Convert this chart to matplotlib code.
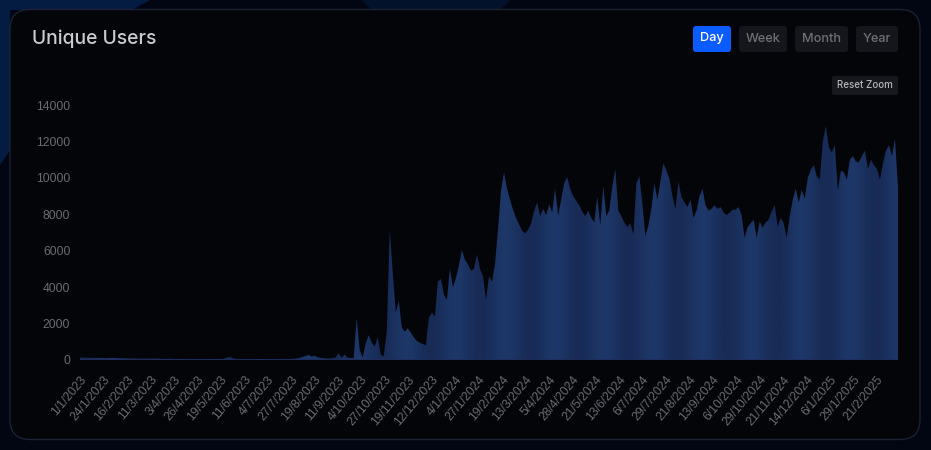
#!/usr/bin/env python3
import numpy as np
import pandas as pd
import matplotlib
matplotlib.use("Agg")
import matplotlib.pyplot as plt
import matplotlib.dates as mdates
from matplotlib.colors import LinearSegmentedColormap
from matplotlib.patches import FancyBboxPatch, Polygon

# unique users, one reading roughly every 3 days
users_2023_a = [130, 135, 125, 120, 125, 115, 110, 120, 105, 100, 110, 115, 105, 95, 100, 90,
                95, 85, 90, 80, 85, 75, 80, 85, 70, 75, 65, 70, 60, 65, 70, 60, 55, 60, 65, 50,
                55, 60, 55, 50, 55, 50, 45, 50, 55, 60, 55]
users_2023_b = [60, 70, 140, 160, 90, 60, 50, 45, 50, 45, 50, 45, 50, 55, 50, 45, 50, 55, 50, 45,
                50, 60, 55, 60, 70, 90, 110, 170, 210, 290, 180, 240, 150, 120, 100, 90, 80, 110,
                140, 380, 130, 300, 120, 110, 100]
users_2023_c = [2300, 550, 130, 900, 1370, 950, 750, 1250, 300, 200, 1550, 7200, 4800, 2600, 3250,
                1800, 1550, 1750, 1500, 1250, 1050, 950, 880, 800, 2300, 2600, 2400, 4300, 4450,
                3600, 3300, 5000, 4000, 4500, 5200, 6050, 5500, 5250, 4900, 5000, 5800, 5000, 4600,
                3300, 4600, 4300, 5300, 7200, 9300, 10300]
users_2024_a = [9400, 8800, 8250, 7800, 7450, 7100, 6950, 7150, 7500, 8200, 8650, 7900, 8300, 7950,
                8550, 8100, 9400, 7950, 8800, 9700, 10050, 9400, 9000, 8750, 8500, 8150, 7900, 8200,
                7800, 7550, 8950, 7400, 9550, 7900, 8200, 9500, 10500, 8200, 7900, 7550, 7300, 7500,
                6900, 9700, 10100, 8600, 6800, 7400, 8300, 9700, 8800, 9800, 10800, 10400, 9950,
                9000, 8300, 9800, 8950, 8650, 8400, 8800, 7800, 8200, 9000, 9400, 8500, 8200, 8300,
                8500, 8300, 8400, 8100, 7950, 8100, 8250, 8250, 8400, 7950, 6700]
users_2024_b = [7300, 7500, 7700, 6700, 7600, 7250, 7550, 7700, 8150, 8500, 7300, 7800, 7500, 6700,
                7900, 8800, 9400, 8650, 9350, 8850, 10000, 10450, 10700, 10100, 9900, 12000, 12850,
                11700, 11400, 11800, 9300, 10400, 10300, 9900, 11000, 11200, 10900, 10850, 11200,
                11500, 10500, 11000, 10700, 10500, 9900, 10800, 11500, 11800, 11200, 12150, 9500]
users = users_2023_a + users_2023_b + users_2023_c + users_2024_a + users_2024_b

tick_labels = ["1/1/2023", "24/1/2023", "16/2/2023", "11/3/2023", "3/4/2023", "26/4/2023",
               "19/5/2023", "11/6/2023", "4/7/2023", "27/7/2023", "19/8/2023", "11/9/2023",
               "4/10/2023", "27/10/2023", "19/11/2023", "12/12/2023", "4/1/2024", "27/1/2024",
               "19/2/2024", "13/3/2024", "5/4/2024", "28/4/2024", "21/5/2024", "13/6/2024",
               "6/7/2024", "29/7/2024", "21/8/2024", "13/9/2024", "6/10/2024", "29/10/2024",
               "21/11/2024", "14/12/2024", "6/1/2025", "29/1/2025", "21/2/2025"]
y_ticks = [0, 2000, 4000, 6000, 8000, 10000, 12000, 14000]
buttons = ["Day", "Week", "Month", "Year"]

W, H = 931, 450
UI_FONT = ["Inter", "DejaVu Sans"]
LABEL_COLOR = "#696b71"

fig = plt.figure(figsize=(W / 100, H / 100), dpi=100, facecolor="#020612")

# page background and card, in pixel coordinates
bg = fig.add_axes([0, 0, 1, 1])
bg.set_xlim(0, W)
bg.set_ylim(H, 0)
bg.axis("off")
bg.add_patch(Polygon([(0, 0), (150, 0), (132, 10), (10, 10), (10, 150), (0, 165)],
                     facecolor="#041c42", edgecolor="none"))
bg.add_patch(Polygon([(362, 0), (510, 0), (500, 10), (372, 10)], facecolor="#03122b", edgecolor="none"))
bg.add_patch(FancyBboxPatch((22, 21.5), 886, 406, boxstyle="round,pad=12,rounding_size=20",
                            facecolor="#030509", edgecolor="#1b2233", linewidth=1))

bg.text(32, 38.5, "Unique Users", color="#c9cbd0", fontsize=13.9, fontweight="medium",
        family=UI_FONT, va="center", ha="left")

button_boxes = [(693, 38), (739, 48), (795, 53), (856, 42)]
for name, (bx, bw) in zip(buttons, button_boxes):
    active = name == "Day"
    bg.add_patch(FancyBboxPatch((bx + 2, 28), bw - 4, 22, boxstyle="round,pad=2,rounding_size=3",
                                facecolor="#0a5cff" if active else "#15161c", edgecolor="none"))
    bg.text(bx + bw / 2, 38.5, name, color="#ffffff" if active else "#6f7075", fontsize=9.2,
            fontweight="medium", family=UI_FONT, ha="center", va="center")
bg.add_patch(FancyBboxPatch((834, 78), 62, 15, boxstyle="round,pad=2,rounding_size=2",
                            facecolor="#17181d", edgecolor="none"))
bg.text(865, 85.5, "Reset Zoom", color="#b4b4b8", fontsize=7, fontweight="medium",
        family=UI_FONT, ha="center", va="center")

# chart area
ax = fig.add_axes([80 / W, (H - 360) / H, 818 / W, 255 / H])
ax.patch.set_alpha(0)
dates = pd.date_range("2023-01-01", "2025-03-14", periods=len(users))
nums = mdates.date2num(dates)

# the fill goes lighter and darker in wide vertical bands, clipped to the user curve
band_cmap = LinearSegmentedColormap.from_list("bands", ["#182b56", "#1d3768"])
band = np.cos(2 * np.pi * (np.arange(818) - 425) / 49.3)[np.newaxis, :]
area = ax.fill_between(nums, 0, users, facecolor="none", edgecolor="none")
img = ax.imshow(band, cmap=band_cmap, aspect="auto", interpolation="bilinear",
                extent=(nums[0], nums[-1], 0, 14000))
img.set_clip_path(area.get_paths()[0], transform=ax.transData)
ax.axhline(0, color="#1f2c5c", linewidth=1.2, zorder=3)

ax.set_xlim(nums[0], nums[-1])
ax.set_ylim(0, 14000)
for side in ax.spines.values():
    side.set_visible(False)
ax.set_yticks(y_ticks)
ax.set_yticklabels([str(v) for v in y_ticks], family="Liberation Sans", fontsize=8.8, color=LABEL_COLOR)
tick_pos = mdates.date2num(pd.to_datetime(tick_labels, dayfirst=True))
ax.set_xticks(tick_pos)
ax.set_xticklabels(tick_labels, rotation=50, ha="right", va="top", rotation_mode="anchor",
                   family="Liberation Sans", fontsize=8.8, color=LABEL_COLOR)
ax.tick_params(axis="both", length=0)
ax.tick_params(axis="x", pad=10)
ax.tick_params(axis="y", pad=7)

fig.savefig("out.png", dpi=100, facecolor=fig.get_facecolor())
